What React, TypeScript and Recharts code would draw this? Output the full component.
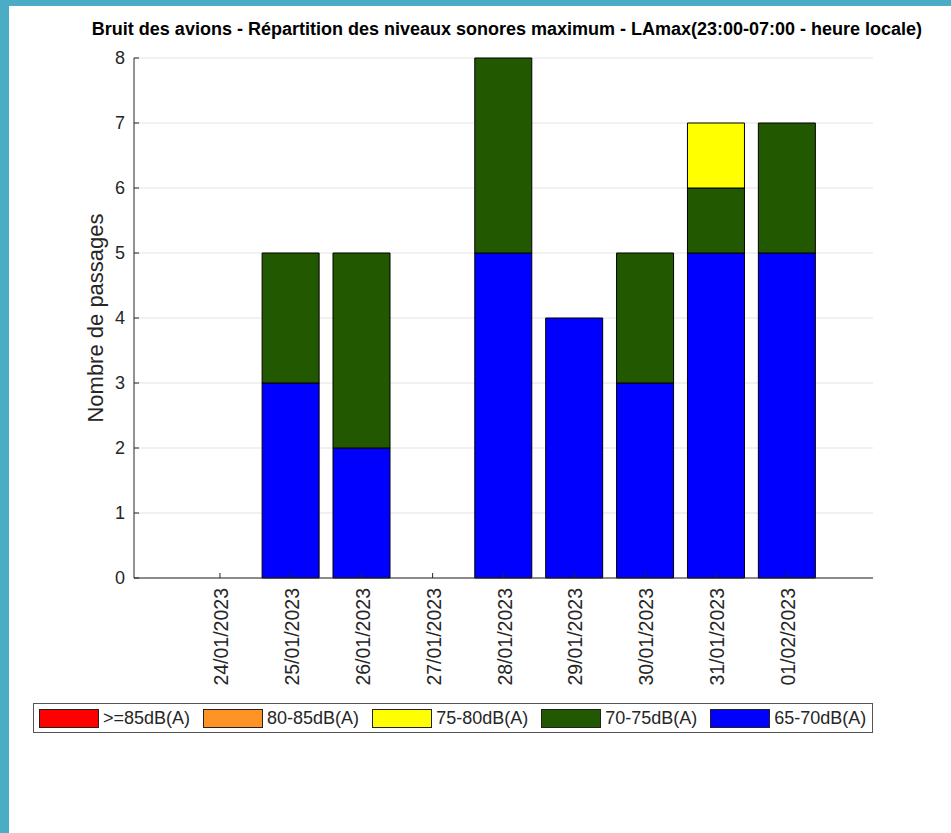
import { BarChart, Bar, XAxis, YAxis, CartesianGrid } from "recharts"

const dates = [
  "24/01/2023",
  "25/01/2023",
  "26/01/2023",
  "27/01/2023",
  "28/01/2023",
  "29/01/2023",
  "30/01/2023",
  "31/01/2023",
  "01/02/2023",
]

const lvl65to70 = [0, 3, 2, 0, 5, 4, 3, 5, 5]
const lvl70to75 = [0, 2, 3, 0, 3, 0, 2, 1, 2]
const lvl75to80 = [0, 0, 0, 0, 0, 0, 0, 1, 0]
const lvl80to85 = [0, 0, 0, 0, 0, 0, 0, 0, 0]
const lvl85plus = [0, 0, 0, 0, 0, 0, 0, 0, 0]

const yTicks = [0, 1, 2, 3, 4, 5, 6, 7, 8]

const series = [
  { key: "s65", label: "65-70dB(A)", color: "#0000ff", values: lvl65to70 },
  { key: "s70", label: "70-75dB(A)", color: "#225800", values: lvl70to75 },
  { key: "s75", label: "75-80dB(A)", color: "#ffff00", values: lvl75to80 },
  { key: "s80", label: "80-85dB(A)", color: "#ff9326", values: lvl80to85 },
  { key: "s85", label: ">=85dB(A)", color: "#ff0000", values: lvl85plus },
]

const chartData = dates.map((d, i) => {
  const row: Record<string, string | number> = { date: d }
  series.forEach((s) => {
    row[s.key] = s.values[i]
  })
  return row
})

const FONT = "'Liberation Sans', Arial, Helvetica, sans-serif"
const AXIS = "#262626"

function DateTick(props: any) {
  const { x, y, payload } = props
  return (
    <text
      x={x + 1}
      y={y}
      transform={`rotate(-90 ${x + 1} ${y})`}
      textAnchor="end"
      dominantBaseline="central"
      fontSize={19.5}
      fontFamily={FONT}
      fill={AXIS}
    >
      {payload.value}
    </text>
  )
}

function YLabel(props: any) {
  const { x, y, height } = props.viewBox
  const cx = x + 95
  const cy = y + height / 2
  return (
    <text
      x={cx}
      y={cy}
      transform={`rotate(-90 ${cx} ${cy})`}
      textAnchor="middle"
      dominantBaseline="central"
      fontSize={22}
      fontFamily={FONT}
      fill={AXIS}
    >
      Nombre de passages
    </text>
  )
}

export default function App() {
  const legendItems = [...series].reverse()
  return (
    <div
      style={{
        position: "absolute",
        left: 0,
        top: 0,
        width: 951,
        height: 833,
        background: "#fff",
        fontFamily: FONT,
        overflow: "hidden",
      }}
    >
      <div
        style={{
          position: "absolute",
          left: 0,
          width: 1014,
          top: 18,
          textAlign: "center",
          fontWeight: "bold",
          fontSize: 18,
          lineHeight: "22px",
          color: "#000",
          whiteSpace: "nowrap",
        }}
      >
        Bruit des avions - Répartition des niveaux sonores maximum - LAmax(23:00-07:00 - heure locale)
      </div>
      <BarChart
        width={951}
        height={833}
        data={chartData}
        margin={{ top: 58, right: 78, left: 0, bottom: 0 }}
        barCategoryGap="9.5%"
        style={{ position: "absolute", left: 0, top: 0 }}
      >
        <CartesianGrid vertical={false} stroke="#e3e3e3" />
        <XAxis
          dataKey="date"
          height={255}
          padding={{ left: 50.5, right: 50.5 }}
          interval={0}
          tickSize={-5}
          tickMargin={15}
          tick={<DateTick />}
          stroke={AXIS}
          tickLine={{ stroke: AXIS }}
        />
        <YAxis
          width={134}
          domain={[0, 8]}
          ticks={yTicks}
          allowDecimals={false}
          tickSize={-5}
          tickMargin={14}
          tick={{ fontSize: 18, fill: AXIS, fontFamily: FONT }}
          stroke={AXIS}
          tickLine={{ stroke: AXIS }}
          label={<YLabel />}
        />
        {series.map((s) => (
          <Bar
            key={s.key}
            dataKey={s.key}
            stackId="a"
            fill={s.color}
            stroke="#000"
            strokeWidth={1}
            isAnimationActive={false}
          />
        ))}
      </BarChart>
      <div style={{ position: "absolute", left: 0, top: 0, width: 951, height: 6, background: "#4bacc6" }} />
      <div style={{ position: "absolute", left: 0, top: 0, width: 9, height: 833, background: "#4bacc6" }} />
      <div
        style={{
          position: "absolute",
          left: 33,
          top: 703,
          width: 833,
          height: 28,
          border: "1px solid #555",
          display: "flex",
          alignItems: "center",
          paddingLeft: 5,
          boxSizing: "content-box",
          whiteSpace: "nowrap",
        }}
      >
        {legendItems.map((s) => (
          <div
            key={s.key}
            style={{ display: "flex", alignItems: "center", marginRight: 13, flexShrink: 0 }}
          >
            <div
              style={{
                width: 58,
                height: 17,
                background: s.color,
                border: "1px solid #222",
                marginRight: 4,
                flexShrink: 0,
              }}
            />
            <span style={{ fontSize: 18, color: AXIS, lineHeight: "20px" }}>{s.label}</span>
          </div>
        ))}
      </div>
    </div>
  )
}
